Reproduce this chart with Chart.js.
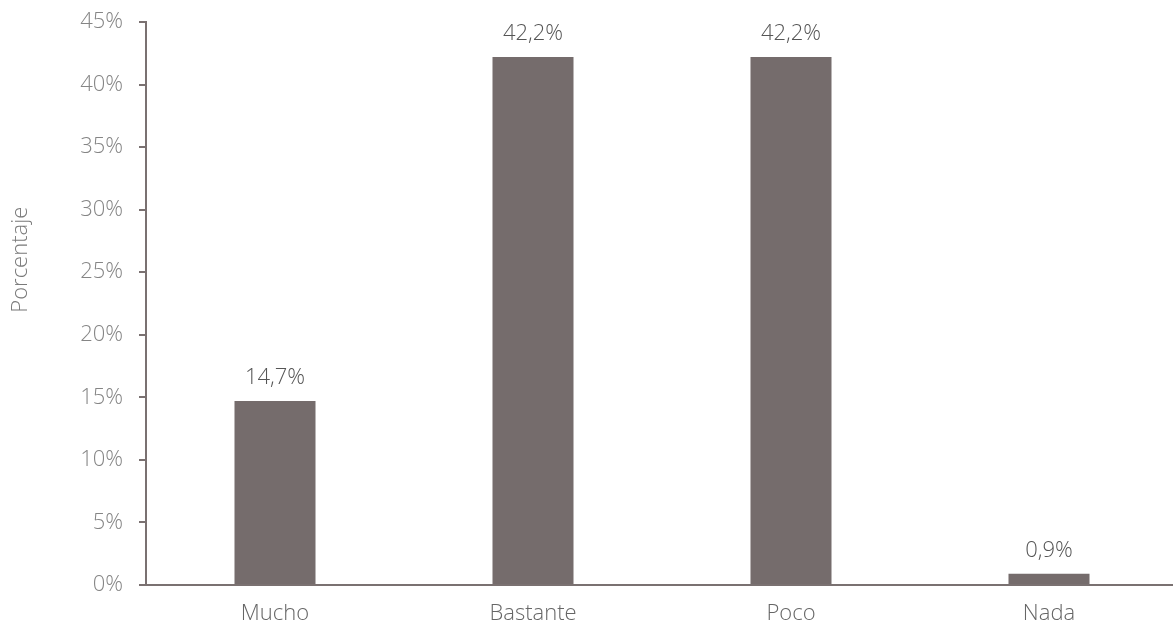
<!DOCTYPE html>
<html>
<head>
<meta charset="utf-8">
<script src="https://cdn.jsdelivr.net/npm/chart.js@4/dist/chart.umd.min.js"></script>
<style>
  html, body { margin: 0; padding: 0; background: #fff; overflow: hidden; }
  #wrap { width: 1178px; height: 628px; position: relative; }
</style>
</head>
<body>
<div id="wrap"><canvas id="chart"></canvas></div>
<script>
// datos
const categorias = ['Mucho', 'Bastante', 'Poco', 'Nada'];
const porcentajes = [14.7, 42.2, 42.2, 0.9];
const tituloY = 'Porcentaje';

const barColor = '#756c6c';
const axisColor = '#7a7171';
const fuente = "'Open Sans', 'Lato', sans-serif";

// etiquetas encima de las barras + titulo del eje y
const etiquetas = {
    id: 'etiquetas',
    afterDatasetsDraw(chart) {
        const ctx = chart.ctx;
        const meta = chart.getDatasetMeta(0);
        ctx.save();
        ctx.font = '300 22px ' + fuente;
        ctx.fillStyle = '#555';
        ctx.textAlign = 'center';
        ctx.textBaseline = 'bottom';
        meta.data.forEach((bar, i) => {
            const txt = porcentajes[i].toFixed(1).replace('.', ',') + '%';
            ctx.fillText(txt, bar.x, bar.y - 12);
        });
        // titulo eje y, un poco por encima del centro como en el original
        const y = chart.scales.y.getPixelForValue(26);
        ctx.translate(21, y);
        ctx.rotate(-Math.PI / 2);
        ctx.textBaseline = 'middle';
        ctx.fillStyle = '#7a7a7a';
        ctx.fillText(tituloY, 0, 0);
        ctx.restore();
    }
};

const ctx = document.querySelector('#chart').getContext('2d');
const chart = new Chart(ctx, {
    type: 'bar',
    data: {
        labels: categorias,
        datasets: [{
            data: porcentajes,
            backgroundColor: barColor,
            barPercentage: 0.314,
            categoryPercentage: 1
        }]
    },
    options: {
        responsive: true,
        maintainAspectRatio: false,
        animation: false,
        layout: { padding: { top: 22, left: 0, right: 0, bottom: 0 } },
        scales: {
            x: {
                grid: { display: false, drawTicks: false },
                border: { display: true, color: axisColor, width: 2 },
                ticks: {
                    color: '#666',
                    padding: 16,
                    font: { family: fuente, size: 22, weight: 300 }
                },
                afterFit(scale) { scale.height = 43; }
            },
            y: {
                min: 0,
                max: 45,
                grid: {
                    display: true,
                    drawOnChartArea: false,
                    drawTicks: true,
                    tickLength: 7,
                    color: axisColor,
                    lineWidth: 2
                },
                border: { display: true, color: axisColor, width: 2 },
                ticks: {
                    stepSize: 5,
                    color: '#858585',
                    padding: 16,
                    font: { family: fuente, size: 22, weight: 300 },
                    callback: v => v + '%'
                },
                afterFit(scale) {
                    scale.width = 146;
                    scale.paddingTop = 0;
                }
            }
        },
        plugins: {
            legend: { display: false },
            tooltip: { enabled: false }
        }
    },
    plugins: [etiquetas]
});
</script>
</body>
</html>
